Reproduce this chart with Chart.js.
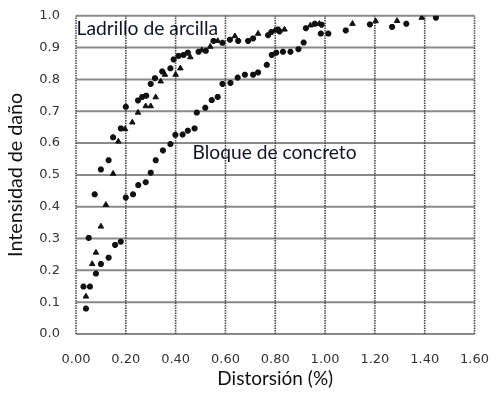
<!DOCTYPE html>
<html>
<head>
<meta charset="utf-8">
<script src="https://cdn.jsdelivr.net/npm/chart.js@4/dist/chart.umd.min.js"></script>
</head>
<body style="margin:0">
<canvas id="grafico" width="499" height="398"></canvas>
<script>
// datos: [distorsión %, intensidad de daño]
const ladrilloTriangulos = [
  [0.04, 0.118], [0.065, 0.22], [0.08, 0.256], [0.10, 0.338], [0.12, 0.406],
  [0.149, 0.504], [0.17, 0.605], [0.197, 0.644], [0.226, 0.665], [0.249, 0.696],
  [0.28, 0.716], [0.30, 0.716], [0.32, 0.744], [0.34, 0.794], [0.357, 0.815],
  [0.40, 0.815], [0.419, 0.835], [0.459, 0.87], [0.505, 0.892], [0.539, 0.903],
  [0.569, 0.921], [0.638, 0.936], [0.731, 0.944], [0.798, 0.954], [0.837, 0.957],
  [0.941, 0.970], [0.977, 0.975], [1.11, 0.975], [1.203, 0.983], [1.289, 0.984],
  [1.388, 0.994]
];
const ladrilloEstrellas = [
  [0.051, 0.302], [0.075, 0.439], [0.10, 0.517], [0.131, 0.546], [0.149, 0.618],
  [0.18, 0.646], [0.2, 0.714], [0.249, 0.734], [0.266, 0.745], [0.282, 0.749],
  [0.30, 0.786], [0.317, 0.804], [0.346, 0.825], [0.379, 0.835], [0.392, 0.863],
  [0.412, 0.874], [0.432, 0.877], [0.449, 0.884], [0.492, 0.887], [0.521, 0.89],
  [0.552, 0.921], [0.588, 0.915], [0.618, 0.925], [0.651, 0.921], [0.691, 0.921],
  [0.711, 0.929], [0.771, 0.939], [0.784, 0.949], [0.811, 0.957], [0.817, 0.951],
  [0.923, 0.961], [0.959, 0.975], [0.986, 0.972], [1.18, 0.973]
];
const bloque = [
  [0.04, 0.08], [0.03, 0.149], [0.056, 0.149], [0.08, 0.19], [0.10, 0.22],
  [0.131, 0.24], [0.157, 0.28], [0.18, 0.29], [0.2, 0.429], [0.229, 0.439],
  [0.25, 0.468], [0.28, 0.477], [0.30, 0.507], [0.32, 0.546], [0.349, 0.577],
  [0.379, 0.597], [0.399, 0.626], [0.428, 0.627], [0.449, 0.639], [0.476, 0.646],
  [0.485, 0.696], [0.519, 0.711], [0.545, 0.735], [0.569, 0.745], [0.588, 0.786],
  [0.62, 0.789], [0.649, 0.806], [0.678, 0.815], [0.711, 0.815], [0.731, 0.822],
  [0.766, 0.846], [0.786, 0.877], [0.804, 0.884], [0.831, 0.887], [0.861, 0.887],
  [0.893, 0.895], [0.914, 0.916], [0.983, 0.944], [1.013, 0.944], [1.083, 0.954],
  [1.269, 0.965], [1.326, 0.975], [1.445, 0.994]
];
const ticksX = [0, 0.2, 0.4, 0.6, 0.8, 1.0, 1.2, 1.4, 1.6];
const ticksY = [0, 0.1, 0.2, 0.3, 0.4, 0.5, 0.6, 0.7, 0.8, 0.9, 1.0];
const etiquetas = [
  { texto: 'Ladrillo de arcilla', x: 0.002, y: 0.941, ancho: 142 },
  { texto: 'Bloque de concreto', x: 0.468, y: 0.55, ancho: 164 }
];
const tituloX = 'Distorsión (%)';
const tituloY = 'Intensidad de daño';

const fuenteTexto = 'Lato, "Open Sans", sans-serif';
const fuenteTicks = '"DejaVu Sans", sans-serif';

// tamaño de letra para que el texto ocupe el mismo ancho que en el original
const medidor = document.createElement('canvas').getContext('2d');
function tamanoPara(texto, ancho) {
  medidor.font = '20px ' + fuenteTexto;
  return Math.round(20 * ancho / medidor.measureText(texto).width * 10) / 10;
}
const tamTituloX = tamanoPara(tituloX, 116);
const tamTituloY = tamanoPara(tituloY, 164);

function puntos(arr) {
  return arr.map(p => ({ x: p[0], y: p[1] }));
}

const xMax = ticksX[ticksX.length - 1];
const yMax = ticksY[ticksY.length - 1];

// la rejilla como series de líneas, debajo de los puntos
const lineasRejilla = [
  ...ticksY.map(v => ({
    data: [{ x: 0, y: v }, { x: xMax, y: v }], showLine: true, pointRadius: 0,
    borderColor: '#8a8a8a', borderWidth: 2, order: 10, clip: false
  })),
  ...ticksX.map(v => ({
    data: [{ x: v, y: 0 }, { x: v, y: yMax }], showLine: true, pointRadius: 0,
    borderColor: '#4a4a4a', borderWidth: 1.6, borderDash: [1.5, 1], order: 9, clip: false
  }))
];

const etiquetasPlugin = {
  id: 'etiquetas',
  afterDatasetsDraw(chart) {
    const ctx = chart.ctx;
    const sx = chart.scales.x, sy = chart.scales.y;
    ctx.save();
    ctx.fillStyle = '#0d1626';
    ctx.textBaseline = 'alphabetic';
    ctx.textAlign = 'left';
    etiquetas.forEach(e => {
      ctx.font = tamanoPara(e.texto, e.ancho) + 'px ' + fuenteTexto;
      ctx.fillText(e.texto, sx.getPixelForValue(e.x), sy.getPixelForValue(e.y));
    });
    ctx.restore();
  }
};

new Chart(document.getElementById('grafico'), {
  type: 'scatter',
  data: {
    datasets: [
      { label: 'Ladrillo de arcilla', data: puntos(ladrilloTriangulos), pointStyle: 'triangle',
        pointRadius: 3.2, backgroundColor: '#111', borderColor: '#111', borderWidth: 1, order: 1 },
      { label: 'Ladrillo de arcilla', data: puntos(ladrilloEstrellas), pointStyle: 'star',
        pointRadius: 3, backgroundColor: '#111', borderColor: '#111', borderWidth: 2.2, order: 1 },
      { label: 'Bloque de concreto', data: puntos(bloque), pointStyle: 'star',
        pointRadius: 3, backgroundColor: '#111', borderColor: '#111', borderWidth: 2.2, order: 1 },
      ...lineasRejilla
    ]
  },
  options: {
    responsive: false,
    animation: false,
    layout: { padding: { top: 12, right: 21, left: 0, bottom: 0 } },
    plugins: { legend: { display: false }, tooltip: { enabled: false } },
    scales: {
      x: {
        type: 'linear', min: 0, max: xMax,
        afterFit(scale) { scale.height = 64; },
        ticks: { stepSize: 0.2, padding: 10, color: '#333', font: { family: fuenteTicks, size: 13 },
                 callback: v => v.toFixed(2), maxRotation: 0 },
        grid: { display: false },
        border: { display: false },
        title: { display: true, text: tituloX, color: '#111', font: { family: fuenteTexto, size: tamTituloX },
                 padding: { top: 0, bottom: 8 } }
      },
      y: {
        type: 'linear', min: 0, max: yMax,
        afterFit(scale) { scale.width = 76; },
        ticks: { stepSize: 0.1, padding: 8, color: '#333', font: { family: fuenteTicks, size: 13 },
                 callback: v => v.toFixed(1) },
        grid: { display: false },
        border: { display: false },
        title: { display: true, text: tituloY, color: '#111', font: { family: fuenteTexto, size: tamTituloY },
                 padding: { top: 4, bottom: 0 } }
      }
    }
  },
  plugins: [etiquetasPlugin]
});
</script>
</body>
</html>
